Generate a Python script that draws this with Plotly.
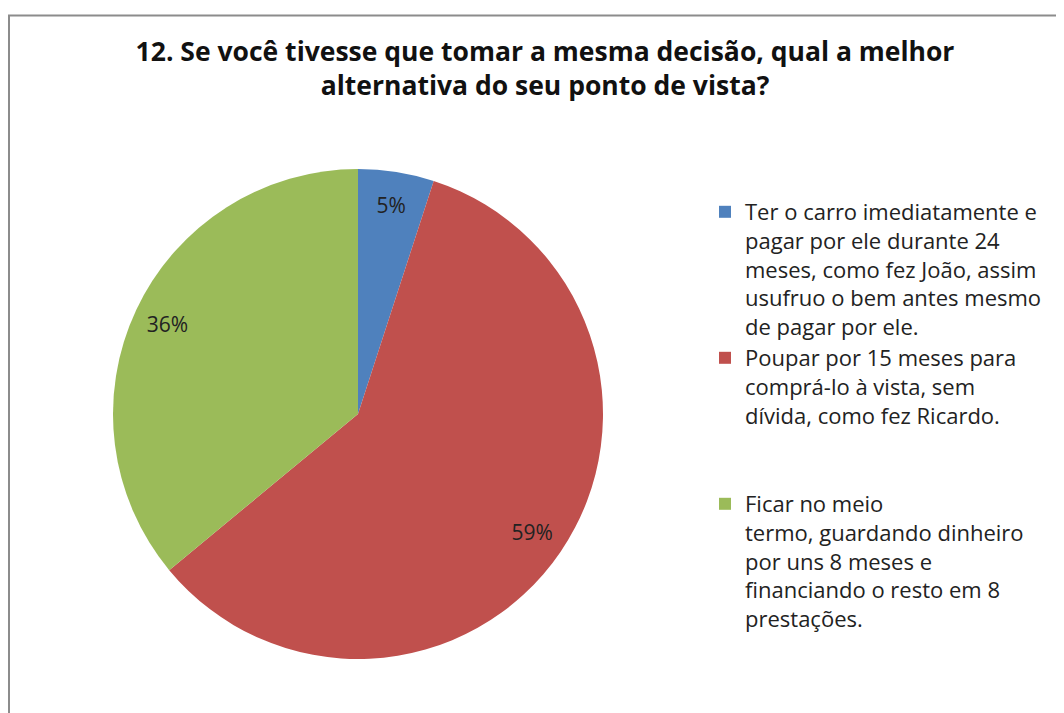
import plotly.graph_objects as go

categories = [
    "Ter o carro imediatamente e<br>pagar por ele durante 24<br>meses, como fez João, assim<br>usufruo o bem antes mesmo<br>de pagar por ele.",
    "Poupar por 15 meses para<br>comprá-lo à vista, sem<br>dívida, como fez Ricardo.<br> <br> ",
    "Ficar no meio<br>termo, guardando dinheiro<br>por uns 8 meses e<br>financiando o resto em 8<br>prestações.",
]
values = [5, 59, 36]
colors = ["#4F81BD", "#C0504D", "#9BBB59"]
title_text = "12. Se você tivesse que tomar a mesma decisão, qual a melhor<br>alternativa do seu ponto de vista?"

# the page body has an 8px default margin, so the figure is sized to the visible area
W, H = 1056, 705
OFF = 8
font_family = "'Open Sans', 'Noto Sans', sans-serif"

cx, cy, r = 358 - OFF, 414 - OFF, 245
domain = dict(x=[(cx - r) / W, (cx + r) / W], y=[1 - (cy + r) / H, 1 - (cy - r) / H])

# visible pie (slices + legend)
pie = go.Pie(
    labels=categories,
    values=values,
    marker=dict(colors=colors, line=dict(width=0)),
    sort=False,
    direction="clockwise",
    rotation=0,
    textinfo="none",
    domain=domain,
    hoverinfo="label+percent",
)

# transparent ring carrying the percentage labels further out, as Excel does
labels_ring = go.Pie(
    labels=categories,
    values=values,
    marker=dict(colors=["rgba(0,0,0,0)"] * len(values), line=dict(width=0)),
    sort=False,
    direction="clockwise",
    rotation=0,
    hole=0.72,
    textinfo="percent",
    texttemplate="%{percent:.0%}",
    textposition="inside",
    insidetextorientation="horizontal",
    textfont=dict(size=21, color="#222222", family=font_family),
    domain=domain,
    showlegend=False,
    hoverinfo="skip",
)

fig = go.Figure([pie, labels_ring])

fig.update_layout(
    width=W,
    height=H,
    margin=dict(l=0, r=0, t=0, b=0),
    paper_bgcolor="white",
    plot_bgcolor="white",
    font=dict(family=font_family, color="#222222"),
    title=dict(
        text="<b>" + title_text + "</b>",
        x=(545 - OFF) / W,
        xanchor="center",
        y=1 - 53 / H,
        yanchor="top",
        font=dict(size=26.5, color="#111111", family=font_family),
    ),
    legend=dict(
        x=697 / W,
        xanchor="left",
        y=1 - 183 / H,
        yanchor="top",
        font=dict(size=22, color="#222222", family=font_family),
        valign="top",
        itemwidth=30,
        tracegroupgap=0,
        bgcolor="rgba(0,0,0,0)",
    ),
    uniformtext=dict(minsize=21, mode="show"),
    shapes=[
        dict(
            type="rect",
            xref="paper",
            yref="paper",
            x0=1 / W,
            x1=1.05,
            y0=-0.05,
            y1=1 - 7.5 / H,
            line=dict(color="#8C8C8C", width=2),
            fillcolor="rgba(0,0,0,0)",
            layer="below",
        )
    ],
)

fig.write_html("out.html")
